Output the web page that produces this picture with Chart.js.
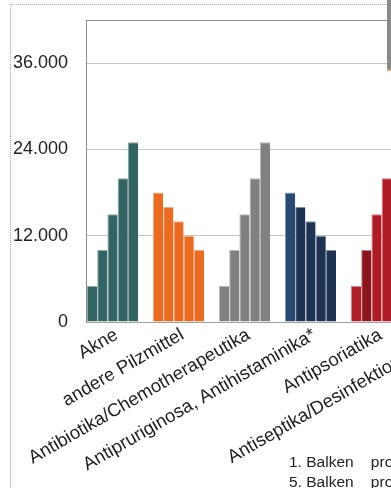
<!DOCTYPE html>
<html lang="de">
<head>
<meta charset="utf-8">
<script src="https://cdn.jsdelivr.net/npm/chart.js"></script>
<style>
    html, body { margin: 0; padding: 0; width: 391px; height: 488px; overflow: hidden; background: #fff; }
    .rahmen { position: absolute; left: 10px; top: 4px; width: 700px; height: 700px; border-left: 1px dotted #a8a8a8; border-top: 1px dotted #a8a8a8; }
    #chart { position: absolute; left: 0; top: 0; }
    .leiste { position: absolute; left: 387px; top: 0; width: 4px; height: 69px; background: #8a8a8a; border-bottom: 2px solid #e3a06c; }
    .hinweise { position: absolute; left: 289px; top: 452px; display: grid; grid-template-columns: repeat(4, 190px); font: 15.5px "Liberation Sans", Arial, sans-serif; color: #222; line-height: 20px; white-space: pre; }
</style>
</head>
<body>
<div class="rahmen"></div>
<canvas id="chart" width="482" height="488"></canvas>
<div class="leiste"></div>
<div class="hinweise" id="hinweise"></div>
<script>
const kategorien = ["Akne", "andere Pilzmittel", "Antibiotika/Chemotherapeutika", "Antipruriginosa, Antihistaminika*", "Antipsoriatika", "Antiseptika/Desinfektionsmittel"];
const balken1 = [5000, 18000, 5000, 18000, 5000, 18000];
const balken2 = [10000, 16000, 10000, 16000, 10000, 16000];
const balken3 = [15000, 14000, 15000, 14000, 15000, 14000];
const balken4 = [20000, 12000, 20000, 12000, 20000, 12000];
const balken5 = [25000, 10000, 25000, 10000, 25000, 10000];
const yTicks = [0, 12000, 24000, 36000, 42000];
const hinweisTexte = ["1. Balken    pro Jahr 2014", "2. Balken    pro Jahr 2015", "3. Balken    pro Jahr 2016", "4. Balken    pro Jahr 2017", "5. Balken    pro Jahr 2018"];

const grundfarben = ["#326463", "#ec6a1f", "#808080", "#1d3352", "#ae1b24", "#5a7d2a"];
// einzelne Balken mit abweichender Schattierung: "kategorie-balken"
const sonderfarben = { "3-0": "#284a72", "4-0": "#b01d27", "4-1": "#8c151b" };

function aufhellen(hex, anteil) {
    const n = parseInt(hex.slice(1), 16);
    const r = (n >> 16) & 255, g = (n >> 8) & 255, b = n & 255;
    const mix = c => Math.round(c + (255 - c) * anteil);
    return `rgb(${mix(r)}, ${mix(g)}, ${mix(b)})`;
}

function tausender(v) {
    return String(v).replace(/\B(?=(\d{3})+(?!\d))/g, ".");
}

const schrift = "'Liberation Sans', Arial, sans-serif";

const datasets = [balken1, balken2, balken3, balken4, balken5].map((werte, i) => {
    const farben = grundfarben.map((f, k) => sonderfarben[k + "-" + i] || f);
    return {
        label: hinweisTexte[i],
        data: werte,
        backgroundColor: farben,
        borderColor: farben.map(f => aufhellen(f, 0.45)),
        borderWidth: { top: 1, left: 1, right: 0, bottom: 0 },
        borderSkipped: false,
        categoryPercentage: 0.773,
        barPercentage: 1
    };
});

// Excel setzt die erste Gruppe dichter an die Achse
const verschiebung = {
    id: "verschiebung",
    afterLayout(chart) {
        const x = chart.scales.x;
        x._startPixel -= 6.5;
        x._endPixel -= 6.5;
    }
};

const config = {
    type: "bar",
    data: { labels: kategorien, datasets },
    options: {
        responsive: false,
        animation: false,
        layout: { padding: { top: 20, left: 0, right: 0, bottom: 0 } },
        plugins: { legend: { display: false }, tooltip: { enabled: false } },
        scales: {
            x: {
                offset: true,
                grid: { display: false, drawTicks: false },
                border: { color: "#a0a0a0", width: 1 },
                ticks: { autoSkip: false, minRotation: 30, maxRotation: 30, padding: 2, labelOffset: 4, color: "#1e1e1e", font: { family: schrift, size: 18.5 } },
                afterFit: s => { s.height = 166; s.paddingLeft = 0; s.paddingRight = 0; }
            },
            y: {
                min: 0,
                max: 42000,
                afterBuildTicks: s => { s.ticks = yTicks.map(v => ({ value: v })); },
                grid: {
                    drawTicks: false,
                    color: ctx => ctx.tick && ctx.tick.value === 42000 ? "#8c8c8c" : "#c6c6c6"
                },
                border: { color: "#8c8c8c", width: 1 },
                ticks: {
                    padding: 18,
                    color: "#222",
                    font: { family: schrift, size: 18 },
                    callback: v => v === 42000 ? "" : tausender(v)
                },
                afterFit: s => { s.width = 86; s.paddingTop = 0; s.paddingBottom = 0; }
            }
        }
    },
    plugins: [verschiebung]
};

new Chart(document.getElementById("chart"), config);

const hinweise = document.getElementById("hinweise");
hinweisTexte.forEach(t => {
    const el = document.createElement("div");
    el.textContent = t;
    hinweise.appendChild(el);
});
</script>
</body>
</html>
